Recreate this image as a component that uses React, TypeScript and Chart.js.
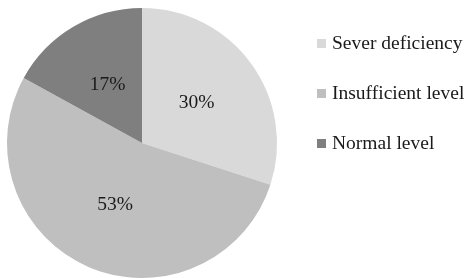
import React, { useEffect, useRef } from "react";
import { Chart, registerables } from "chart.js";

Chart.register(...registerables);

const categories = ["Sever deficiency", "Insufficient level", "Normal level"];
const values = [30, 53, 17];
const colors = ["#d9d9d9", "#bfbfbf", "#7f7f7f"];
const FONT = "'Liberation Serif', 'Times New Roman', serif";

const labelPlugin = {
  id: "sliceLabels",
  afterDatasetsDraw(chart: any) {
    const ctx = chart.ctx;
    const meta = chart.getDatasetMeta(0);
    const data = chart.data.datasets[0].data as number[];
    const total = data.reduce((a, b) => a + b, 0);
    ctx.save();
    ctx.font = `19.5px ${FONT}`;
    ctx.fillStyle = "#1a1a1a";
    ctx.textAlign = "center";
    ctx.textBaseline = "middle";
    meta.data.forEach((arc: any, i: number) => {
      const p = arc.tooltipPosition();
      ctx.fillText(Math.round((data[i] / total) * 100) + "%", p.x, p.y);
    });
    ctx.restore();
  },
};

const legendPlugin = {
  id: "customLegend",
  afterDraw(chart: any) {
    const ctx = chart.ctx;
    const area = chart.chartArea;
    const x0 = area.right + 40;
    const y0 = 43;
    const step = 50;
    ctx.save();
    ctx.font = `19.5px ${FONT}`;
    ctx.textAlign = "left";
    ctx.textBaseline = "middle";
    chart.data.labels.forEach((lab: string, i: number) => {
      const y = y0 + i * step;
      ctx.fillStyle = chart.data.datasets[0].backgroundColor[i];
      ctx.fillRect(x0, y - 4, 9, 9);
      ctx.fillStyle = "#1a1a1a";
      ctx.fillText(lab, x0 + 15, y + 1);
    });
    ctx.restore();
  },
};

export default function App() {
  const ref = useRef<HTMLCanvasElement | null>(null);
  useEffect(() => {
    if (!ref.current) return;
    const chart = new Chart(ref.current, {
      type: "pie",
      data: {
        labels: categories,
        datasets: [
          {
            data: values,
            backgroundColor: colors,
            borderWidth: 0,
            hoverOffset: 0,
          },
        ],
      },
      options: {
        responsive: false,
        animation: false,
        layout: { padding: { left: 7, top: 8, right: 190, bottom: 0 } },
        plugins: {
          legend: { display: false },
          tooltip: { enabled: false },
        },
      },
      plugins: [labelPlugin, legendPlugin],
    });
    return () => chart.destroy();
  }, []);
  return (
    <div style={{ position: "fixed", left: 0, top: 0, width: 467, height: 278, background: "#fff" }}>
      <canvas ref={ref} width={467} height={278} />
    </div>
  );
}
